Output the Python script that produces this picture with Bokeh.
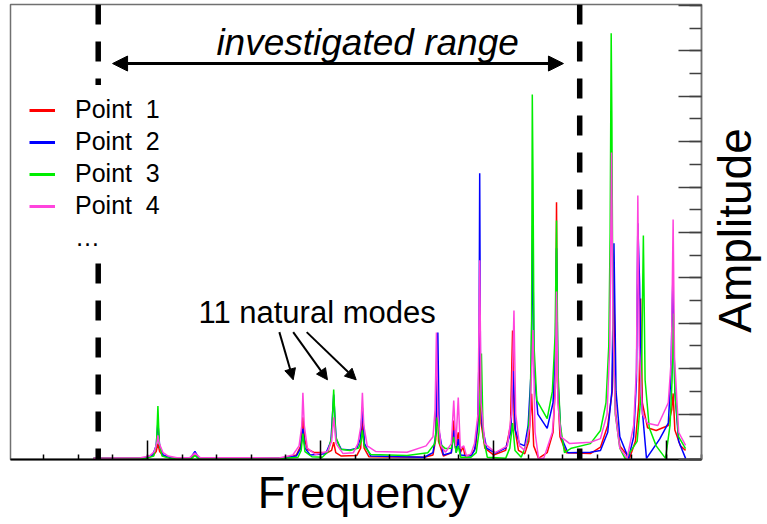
import math
from bokeh.plotting import figure
from bokeh.layouts import row, column
from bokeh.models import (Range1d, FixedTicker, Legend, LegendItem, Arrow,
                          NormalHead, Label, CustomJSTickFormatter)
from bokeh.embed import file_html
from bokeh.resources import INLINE

# ---------------- data ----------------
X_P1 = [2.44, 3.90,
        4.15, 4.25, 4.30, 4.35, 4.45, 4.70,
        5.25, 5.37, 5.48,
        7.90,
        8.30, 8.43, 8.49, 8.54, 8.62, 8.80,
        9.20, 9.32, 9.38, 9.44, 9.60,
        10.05, 10.16, 10.21, 10.26, 10.40,
        12.00,
        12.25, 12.33, 12.37, 12.41, 12.55,
        12.78, 12.85, 12.90,
        12.98, 13.04,
        13.12, 13.18,
        13.35,
        13.48, 13.56, 13.60, 13.64, 13.75, 14.00,
        14.35, 14.49, 14.55, 14.60, 14.72, 14.90,
        15.02, 15.10, 15.16, 15.30,
        15.55, 15.72, 15.79, 15.82, 15.85, 15.92, 16.10,
        16.80, 17.09, 17.30,
        17.43, 17.48, 17.53, 17.65, 17.93,
        18.10, 18.20, 18.25, 18.30, 18.45, 18.70,
        19.05, 19.15, 19.19, 19.24, 19.40, 19.55]
Y_P1 = [0.05, 0.06,
        0.15, 0.35, 0.70, 0.35, 0.15, 0.06,
        0.07, 0.25, 0.07,
        0.05,
        0.20, 0.60, 1.86, 0.90, 0.45, 0.32,
        0.30, 0.40, 0.76, 0.30, 0.15,
        0.18, 0.50, 1.72, 0.50, 0.12,
        0.10,
        0.20, 0.90, 3.79, 0.80, 0.15,
        0.30, 1.72, 0.50,
        1.20, 0.30,
        0.55, 0.15,
        0.20,
        0.50, 1.80, 5.68, 1.60, 0.50, 0.20,
        0.40, 1.50, 5.68, 1.50, 0.40, 0.25,
        0.80, 2.90, 0.60, 0.05,
        0.30, 1.20, 3.50, 11.33, 3.20, 1.00, 0.30,
        0.26, 0.54, 1.50,
        3.00, 7.44, 2.00, 0.60, 0.05,
        0.80, 2.50, 7.09, 2.50, 1.40, 1.28,
        1.50, 2.20, 2.91, 1.30, 0.60, 0.40]

X_P2 = [2.44, 3.90,
        4.15, 4.25, 4.30, 4.35, 4.45, 4.70,
        5.25, 5.37, 5.48,
        7.90,
        8.30, 8.43, 8.49, 8.55, 8.70,
        9.15, 9.30, 9.38, 9.45, 9.60, 9.85,
        10.05, 10.15, 10.21, 10.27, 10.45,
        12.00,
        12.25, 12.34, 12.39, 12.43, 12.55,
        12.78, 12.86, 12.92, 12.98, 13.05,
        13.35,
        13.45, 13.54, 13.58, 13.60, 13.62, 13.67, 13.80, 14.05,
        14.35, 14.50, 14.57, 14.63, 14.75, 14.90,
        15.00, 15.09, 15.13, 15.17, 15.28, 15.55,
        15.72, 15.79, 15.82, 15.86, 15.95, 16.15,
        16.80, 17.09, 17.30,
        17.42, 17.48, 17.54, 17.65, 17.90,
        18.05, 18.13, 18.17, 18.22, 18.28, 18.42,
        18.48, 18.80, 19.05,
        19.12, 19.18, 19.24, 19.35, 19.55]
Y_P2 = [0.05, 0.06,
        0.20, 0.60, 1.64, 0.60, 0.20, 0.06,
        0.08, 0.36, 0.08,
        0.06,
        0.15, 0.50, 1.36, 0.50, 0.20,
        0.25, 0.80, 2.86, 0.90, 0.45, 0.42,
        0.50, 0.90, 2.28, 0.70, 0.15,
        0.10,
        0.30, 1.20, 5.59, 1.20, 0.20,
        0.30, 1.28, 0.30, 0.90, 0.20,
        0.15,
        0.40, 1.50, 4.50, 12.61, 4.50, 1.50, 0.50, 0.28,
        0.50, 1.20, 3.90, 1.30, 0.70, 0.60,
        1.50, 4.00, 10.30, 4.00, 2.00, 1.37,
        2.50, 5.00, 9.30, 3.50, 1.00, 0.30,
        0.32, 0.40, 1.20,
        3.00, 9.52, 3.00, 1.00, 0.05,
        1.00, 3.50, 10.40, 7.80, 2.50, 0.05,
        0.18, 0.90, 1.60,
        3.50, 7.80, 3.00, 0.80, 0.05]

X_P3 = [2.44, 3.95,
        4.18, 4.26, 4.30, 4.34, 4.42, 4.65,
        5.28, 5.37, 5.46,
        7.95,
        8.35, 8.44, 8.49, 8.55, 8.75, 9.05,
        9.22, 9.32, 9.38, 9.44, 9.58, 9.85,
        10.10, 10.17, 10.21, 10.26, 10.45, 11.50,
        12.10,
        12.30, 12.37, 12.44, 12.61,
        12.78, 12.85, 12.92, 12.98, 13.05,
        13.35,
        13.50, 13.58, 13.65, 13.70, 13.82, 14.35,
        14.47, 14.55, 14.62, 14.80,
        14.98, 15.06, 15.10, 15.12, 15.14, 15.17, 15.25, 15.55,
        15.70, 15.78, 15.82, 15.86, 15.93, 16.05, 16.25,
        16.80, 17.09, 17.25,
        17.33, 17.37, 17.40, 17.42, 17.45, 17.52, 17.65, 17.81,
        18.15, 18.27, 18.33, 18.38, 18.50, 18.70, 18.97,
        19.10, 19.16, 19.20, 19.24, 19.35, 19.55]
Y_P3 = [0.05, 0.05,
        0.15, 0.70, 2.35, 0.70, 0.15, 0.05,
        0.05, 0.18, 0.05,
        0.05,
        0.10, 0.40, 1.14, 0.35, 0.12, 0.10,
        0.35, 1.00, 3.08, 1.00, 0.45, 0.40,
        0.50, 0.80, 1.28, 0.60, 0.22, 0.18,
        0.30,
        0.70, 1.86, 0.70, 0.48,
        0.50, 1.00, 0.30, 0.60, 0.10,
        0.10,
        0.30, 1.20, 4.67, 1.00, 0.10, 0.05,
        0.50, 1.60, 0.40, 0.10,
        0.80, 2.50, 6.00, 16.08, 12.50, 5.00, 2.60, 1.80,
        3.00, 5.50, 10.53, 4.00, 1.50, 0.30, 0.50,
        0.70, 1.28, 2.50,
        5.00, 10.00, 18.77, 15.00, 6.00, 2.00, 0.50, 0.02,
        0.80, 3.00, 9.87, 3.50, 1.40, 0.60, 0.05,
        1.50, 3.50, 6.43, 3.00, 1.00, 0.48]

X_P4 = [2.44, 3.80,
        4.05, 4.20, 4.28, 4.30, 4.34, 4.45, 4.60, 4.85,
        5.22, 5.37, 5.52,
        7.80,
        8.20, 8.38, 8.46, 8.49, 8.53, 8.62, 8.85,
        9.20, 9.32, 9.38, 9.45, 9.65, 9.95,
        10.08, 10.17, 10.21, 10.25, 10.35, 10.60, 11.50,
        12.05,
        12.25, 12.31, 12.35, 12.39, 12.48, 12.61,
        12.78, 12.85, 12.91,
        12.98, 13.04,
        13.14, 13.22,
        13.35,
        13.45, 13.55, 13.60, 13.64, 13.75, 14.05,
        14.40, 14.52, 14.59, 14.64, 14.75, 14.90,
        15.05, 15.14, 15.20, 15.30, 15.45,
        15.70, 15.78, 15.82, 15.86, 15.95, 16.20,
        16.80, 17.09, 17.28,
        17.36, 17.41, 17.45, 17.52, 17.65, 17.86,
        18.05, 18.13, 18.17, 18.21, 18.30, 18.45, 18.75,
        19.05, 19.14, 19.19, 19.23, 19.35, 19.55]
Y_P4 = [0.05, 0.08,
        0.15, 0.35, 0.80, 1.06, 0.70, 0.30, 0.15, 0.08,
        0.08, 0.28, 0.08,
        0.07,
        0.20, 0.60, 1.50, 2.94, 1.50, 0.50, 0.22,
        0.35, 0.80, 1.86, 0.70, 0.26, 0.30,
        0.70, 1.50, 2.94, 1.50, 0.60, 0.35, 0.32,
        0.60,
        1.00, 2.20, 5.59, 2.00, 0.60, 0.32,
        0.70, 2.60, 0.60,
        2.73, 0.50,
        0.60, 0.15,
        0.25,
        0.70, 2.00, 8.77, 2.50, 0.70, 0.30,
        0.60, 2.00, 6.56, 2.00, 0.60, 0.40,
        1.50, 5.70, 1.20, 0.05, 0.05,
        1.20, 2.80, 7.40, 2.50, 1.00, 0.70,
        0.76, 0.92, 2.00,
        5.00, 13.52, 6.00, 2.00, 0.50, 0.05,
        1.50, 4.00, 11.63, 5.00, 2.00, 1.60, 1.50,
        2.50, 4.50, 10.57, 4.50, 1.20, 0.62]

SERIES_LABELS = ["Point  1", "Point  2", "Point  3", "Point  4"]
MORE_LABEL = "\u2026"
SERIES_COLORS = ["#ff0000", "#0000ff", "#00ee00", "#ff44dd"]

X_MAJOR = [4, 9, 14, 19]
X_MINOR = list(range(0, 21))
Y_MAJOR = list(range(0, 21, 2))
Y_MINOR = list(range(0, 21))

RANGE_BOUNDS = [2.575, 16.49]          # investigated range (dashed lines)
RANGE_ARROW = [2.99, 16.02, 17.44]     # x start, x end, y
MODE_ARROW_START_X = [7.81, 8.21, 8.60]
MODE_ARROW_END_X = [8.21, 9.20, 10.03]
MODE_ARROW_Y = [5.61, 3.51]

X_TITLE = "Frequency"
Y_TITLE = "Amplitude"

# ---------------- sizes ----------------
W_MAIN, H_MAIN = 709, 463
W_SIDE = 56
H_BOTTOM = 59
FONT = "Liberation Sans"

# ---------------- main figure ----------------
p = figure(width=W_MAIN, height=H_MAIN,
           x_range=Range1d(0.04, 20.01), y_range=Range1d(0, 20.04),
           y_axis_location="right",
           output_backend="svg", toolbar_location=None,
           min_border_left=10, min_border_right=8,
           min_border_top=4, min_border_bottom=4)
p.xgrid.visible = False
p.ygrid.visible = False
p.outline_line_color = "#707070"
p.outline_line_width = 1.5
p.background_fill_color = "white"
p.border_fill_color = "white"

xa = p.xaxis[0]
xa.ticker = FixedTicker(ticks=X_MAJOR, minor_ticks=X_MINOR)
xa.formatter = CustomJSTickFormatter(code="return ''")
xa.major_label_text_font_size = "0px"
xa.major_label_standoff = 0
xa.axis_line_color = "black"
xa.axis_line_width = 2
xa.major_tick_line_color = "black"
xa.major_tick_line_width = 1.5
xa.major_tick_in = 19
xa.major_tick_out = 0
xa.minor_tick_line_color = "black"
xa.minor_tick_line_width = 1.5
xa.minor_tick_in = 5
xa.minor_tick_out = 0

ya = p.yaxis[0]
ya.ticker = FixedTicker(ticks=Y_MAJOR, minor_ticks=Y_MINOR)
ya.formatter = CustomJSTickFormatter(code="return ''")
ya.major_label_text_font_size = "0px"
ya.major_label_standoff = 0
ya.axis_line_color = "#707070"
ya.axis_line_width = 1.5
ya.major_tick_line_color = "#404040"
ya.major_tick_line_width = 1.5
ya.major_tick_in = 23
ya.major_tick_out = 0
ya.minor_tick_line_color = "#404040"
ya.minor_tick_line_width = 1.5
ya.minor_tick_in = 12
ya.minor_tick_out = 0

# curves
for xs, ys, c in zip([X_P1, X_P2, X_P3, X_P4], [Y_P1, Y_P2, Y_P3, Y_P4], SERIES_COLORS):
    p.line(xs, ys, line_color=c, line_width=1.5)

# investigated range: dashed limits
p.segment(x0=RANGE_BOUNDS, y0=[20.04] * len(RANGE_BOUNDS),
          x1=RANGE_BOUNDS, y1=[0] * len(RANGE_BOUNDS),
          line_color="black", line_width=5.5, line_dash="20 17")

p.add_layout(Arrow(x_start=RANGE_ARROW[0], x_end=RANGE_ARROW[1],
                   y_start=RANGE_ARROW[2], y_end=RANGE_ARROW[2],
                   line_width=3, line_color="black",
                   start=NormalHead(size=15, fill_color="black", line_color="black"),
                   end=NormalHead(size=15, fill_color="black", line_color="black")))

for xs, xe in zip(MODE_ARROW_START_X, MODE_ARROW_END_X):
    p.add_layout(Arrow(x_start=xs, y_start=MODE_ARROW_Y[0], x_end=xe, y_end=MODE_ARROW_Y[1],
                       line_width=2, line_color="black",
                       end=NormalHead(size=11, fill_color="black", line_color="black")))

p.add_layout(Label(x=10.36, y=18.37, text="investigated range", text_align="center",
                   text_baseline="alphabetic", text_font=FONT,
                   text_font_style="italic", text_font_size="37px", text_color="black"))
p.add_layout(Label(x=8.9, y=6.47, text="11 natural modes", text_align="center",
                   text_baseline="alphabetic", text_font=FONT,
                   text_font_size="31px", text_color="black"))

# legend (swatches from out-of-view renderers with wider lines)
items = []
for lab, c in zip(SERIES_LABELS, SERIES_COLORS):
    r = p.line([-100, -99], [-100, -100], line_color=c, line_width=3)
    items.append(LegendItem(label=lab, renderers=[r]))
r_more = p.line([-100, -99], [-100, -100], line_color="white", line_alpha=0, line_width=3)
items.append(LegendItem(label=MORE_LABEL, renderers=[r_more]))

legend = Legend(items=items, location=(9, 197), padding=10, spacing=3,
                glyph_width=26, glyph_height=20, label_standoff=20,
                label_text_font=FONT, label_text_font_size="25px",
                label_text_color="black",
                background_fill_color="white", background_fill_alpha=1,
                border_line_alpha=0, margin=0)
p.add_layout(legend)

# ---------------- side figure: y title ----------------
pa = figure(width=W_SIDE, height=H_MAIN, x_range=Range1d(0, W_SIDE),
            y_range=Range1d(0, H_MAIN), x_axis_type=None, y_axis_type=None,
            output_backend="svg", toolbar_location=None, min_border=0)
pa.outline_line_color = None
pa.xgrid.visible = False
pa.ygrid.visible = False
pa.add_layout(Label(x=25, y=H_MAIN - 230, text=Y_TITLE, angle=math.pi / 2,
                    text_align="center", text_baseline="alphabetic", text_font=FONT,
                    text_font_size="46px", text_color="black"))

# ---------------- bottom figure: x title ----------------
pf = figure(width=W_MAIN + W_SIDE, height=H_BOTTOM, x_range=Range1d(0, W_MAIN + W_SIDE),
            y_range=Range1d(0, H_BOTTOM), x_axis_type=None, y_axis_type=None,
            output_backend="svg", toolbar_location=None, min_border=0)
pf.outline_line_color = None
pf.xgrid.visible = False
pf.ygrid.visible = False
pf.add_layout(Label(x=363.5, y=H_BOTTOM - (506 - H_MAIN) + 14, text=X_TITLE,
                    text_align="center", text_baseline="alphabetic", text_font=FONT,
                    text_font_size="45px", text_color="black"))

layout = column(row(p, pa, spacing=0), pf, spacing=0)
open("out.html", "w").write(file_html(layout, INLINE))
